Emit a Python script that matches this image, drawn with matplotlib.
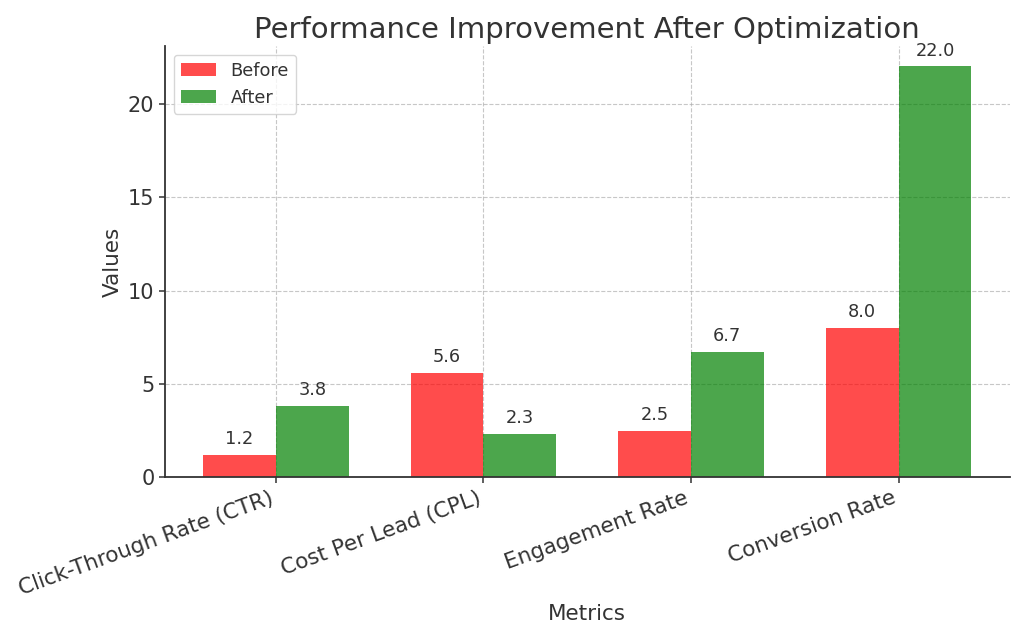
import matplotlib.pyplot as plt
import numpy as np

plt.rcParams["font.family"] = ["DejaVu Sans"]

metrics = ["Click-Through Rate (CTR)", "Cost Per Lead (CPL)", "Engagement Rate", "Conversion Rate"]
before = [1.2, 5.6, 2.5, 8.0]
after = [3.8, 2.3, 6.7, 22.0]

x = np.arange(len(metrics))
width = 0.35

fig, ax = plt.subplots(figsize=(10.24, 6.38), dpi=100)
b1 = ax.bar(x - width / 2, before, width, label="Before", color="red", alpha=0.7)
b2 = ax.bar(x + width / 2, after, width, label="After", color="green", alpha=0.7)

for bars in (b1, b2):
    for bar in bars:
        h = bar.get_height()
        ax.annotate(f"{h:.1f}", xy=(bar.get_x() + bar.get_width() / 2, h),
                    xytext=(0, 5), textcoords="offset points",
                    ha="center", va="bottom", fontsize=12.8, color="#333333")

ax.set_title("Performance Improvement After Optimization", fontsize=21, color="#333333")
ax.set_xlabel("Metrics", fontsize=15.5, color="#333333")
ax.set_ylabel("Values", fontsize=15.5, color="#333333")
ax.set_xticks(x)
ax.set_xticklabels(metrics, rotation=20, ha="right", fontsize=15.5, color="#333333")
ax.tick_params(axis="y", labelsize=15, labelcolor="#333333")
ax.tick_params(length=4, width=1.1, color="#333333")
ax.grid(True, linestyle="--", alpha=0.7)
ax.set_axisbelow(True)
ax.spines["top"].set_visible(False)
ax.spines["right"].set_visible(False)
for s in ("left", "bottom"):
    ax.spines[s].set_color("#333333")
    ax.spines[s].set_linewidth(1.3)
ax.legend(fontsize=12.8, labelcolor="#333333")

plt.subplots_adjust(left=0.161, right=0.986, top=0.928, bottom=0.252)
plt.savefig("out.png")
